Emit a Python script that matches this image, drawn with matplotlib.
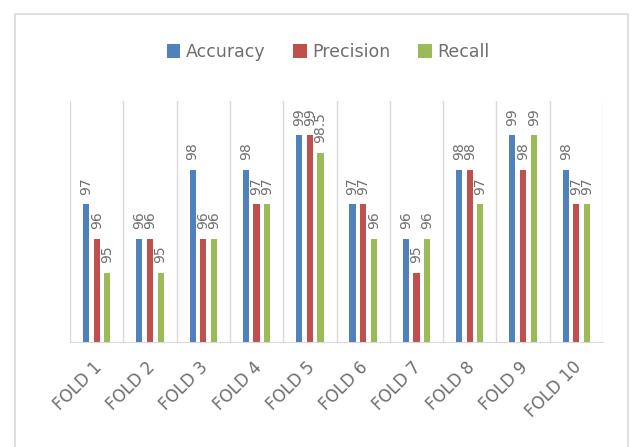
import matplotlib.pyplot as plt
import matplotlib.patches as mpatches
import matplotlib.transforms as mtransforms
import numpy as np

# data
folds = ['FOLD 1', 'FOLD 2', 'FOLD 3', 'FOLD 4', 'FOLD 5',
         'FOLD 6', 'FOLD 7', 'FOLD 8', 'FOLD 9', 'FOLD 10']
accuracy = [97, 96, 98, 98, 99, 97, 96, 98, 99, 98]
precision = [96, 96, 96, 97, 99, 97, 95, 98, 98, 97]
recall = [95, 95, 96, 97, 98.5, 96, 96, 97, 99, 97]

series = [('Accuracy', accuracy, '#4F81BD'),
          ('Precision', precision, '#C0504D'),
          ('Recall', recall, '#9BBB59')]

text_col = '#6e6e6e'

fig = plt.figure(figsize=(6.34, 4.47), dpi=100)
fig.patch.set_facecolor('white')

# outer chart border
fig.patches.append(mpatches.Rectangle((15 / 634, -0.01), (628 - 15) / 634, 1 - 14 / 447 + 0.01,
                                      transform=fig.transFigure, fill=False,
                                      edgecolor='#d9d9d9', linewidth=1.2))

ax = fig.add_axes([70 / 634, 1 - 342 / 447, (603 - 70) / 634, (342 - 101) / 447])

x = np.arange(len(folds))
offsets = [-0.2, 0.0, 0.2]
w = 0.115
handles = []
for (name, vals, col), off in zip(series, offsets):
    bars = ax.bar(x + off, vals, width=w, color=col, label=name, zorder=3)
    handles.append(bars)
    for xi, v in zip(x, vals):
        lab = ('%g' % v)
        ax.annotate(lab, (xi + off, v), xytext=(0, 7), textcoords='offset points',
                    rotation=90, ha='center', va='bottom', fontsize=10,
                    color=text_col)

ax.set_ylim(93, 100)
ax.set_xlim(-0.5, len(folds) - 0.5)

# category separators
ax.set_xticks(np.arange(len(folds) + 1) - 0.5, minor=True)
ax.grid(axis='x', which='minor', color='#d9d9d9', linewidth=1.0, zorder=0)
ax.tick_params(axis='x', which='both', length=0)
ax.set_yticks([])

ax.set_xticks(x)
ax.set_xticklabels(folds, rotation=45, ha='right', rotation_mode='anchor',
                   fontsize=12, color=text_col)
shift = mtransforms.ScaledTranslation(-3 / 72, -8 / 72, fig.dpi_scale_trans)
for t in ax.get_xticklabels():
    t.set_transform(t.get_transform() + shift)

for s in ['top', 'left', 'right']:
    ax.spines[s].set_visible(False)
ax.spines['bottom'].set_color('#d9d9d9')

fig.legend(handles=handles, loc='center', bbox_to_anchor=(328 / 634, 1 - 52 / 447),
           ncol=3, frameon=False, fontsize=12.5, labelcolor=text_col,
           handlelength=0.8, handleheight=0.8, handletextpad=0.3, columnspacing=1.6)

plt.savefig('out.png', dpi=100)
